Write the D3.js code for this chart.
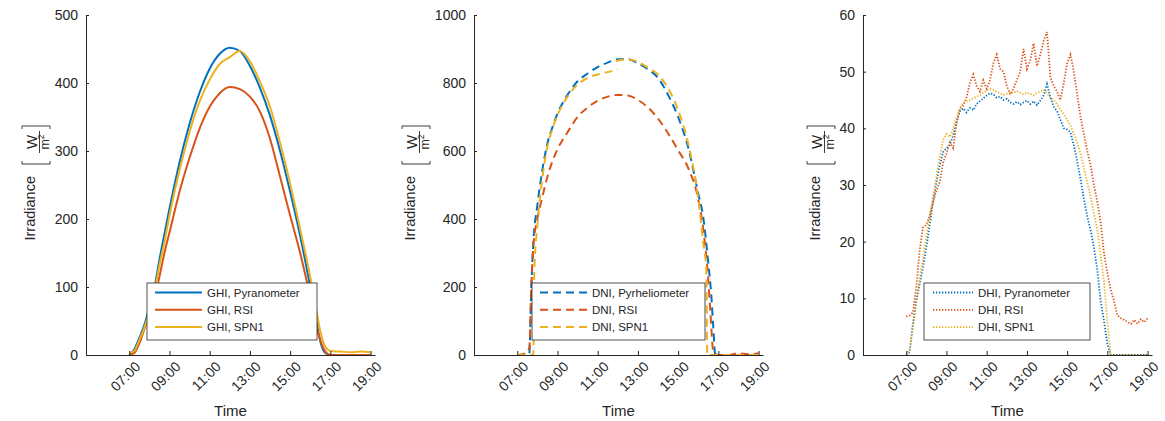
<!DOCTYPE html>
<html>
<head>
<meta charset="utf-8">
<script src="https://cdn.jsdelivr.net/npm/d3@7"></script>
<style>
  body { margin: 0; background: #fff; }
  svg text { font-family: "Liberation Sans", Arial, sans-serif; fill: #262626; }
</style>
</head>
<body>
<svg id="chart" width="1165" height="421"></svg>
<script>
// ---- data (time in decimal hours, irradiance in W/m2) ----
const xTicks = [7, 9, 11, 13, 15, 17, 19];

// GHI panel - shared half hour grid
const ghiTime = [7.0, 7.25, 7.5, 7.75, 8.0, 8.25, 8.5, 8.75, 9.0, 9.5, 10.0, 10.5, 11.0, 11.5, 12.0, 12.5,
  13.0, 13.5, 14.0, 14.5, 15.0, 15.5, 16.0, 16.25, 16.5, 16.75, 17.0, 17.5, 18.0, 18.5, 19.0];
const ghiPyr = [0, 8, 25, 44, 70, 98, 140, 178, 215, 283, 340, 386, 421, 443, 452, 447,
  425, 393, 352, 300, 240, 175, 100, 60, 20, 3, 0, 0, 0, 0, 0];
const ghiRsi = [0, 3, 17, 38, 60, 82, 115, 150, 180, 240, 290, 333, 365, 385, 394, 391,
  380, 358, 318, 262, 205, 150, 85, 50, 22, 5, 0, 0, 0, 0, 0];
const ghiSpn = [3, 6, 22, 40, 65, 92, 132, 166, 205, 272, 328, 373, 405, 428, 438, 447,
  432, 402, 365, 312, 252, 185, 115, 75, 35, 12, 6, 5, 4, 5, 4];

// DNI panel
const dniPyrTime = [7.0, 7.5, 7.6, 7.7, 7.8, 8.0, 8.25, 8.5, 8.75, 9.0, 9.5, 10.0, 10.5, 11.0, 11.5, 12.0, 12.5,
  13.0, 13.5, 14.0, 14.5, 15.0, 15.5, 16.0, 16.25, 16.5, 16.65, 16.75, 16.85, 17.5, 18.0, 18.5, 19.0];
const dniPyr = [0, 0, 5, 200, 330, 440, 545, 622, 670, 710, 765, 805, 828, 847, 860, 870, 870,
  858, 840, 815, 765, 700, 610, 475, 405, 270, 175, 80, 0, 0, 0, 0, 0];
const dniRsiTime = [7.0, 7.4, 7.6, 7.7, 7.8, 8.0, 8.25, 8.5, 8.75, 9.0, 9.5, 10.0, 10.5, 11.0, 11.5, 12.0, 12.5,
  13.0, 13.5, 14.0, 14.5, 15.0, 15.5, 16.0, 16.25, 16.5, 16.6, 16.75, 17.0, 17.5, 18.0, 18.5, 19.0];
const dniRsi = [0, 5, 20, 200, 320, 400, 465, 524, 570, 605, 655, 700, 728, 748, 760, 765, 763,
  750, 728, 695, 652, 602, 550, 458, 370, 220, 130, 10, 0, 0, 5, 2, 5];
const dniSpnTime = [7.0, 7.75, 7.8, 7.85, 8.0, 8.25, 8.5, 8.75, 9.0, 9.5, 10.0, 10.5, 11.0, 11.5, 12.0, 12.0,
  11.9, 12.5, 13.0, 13.5, 14.0, 14.5, 15.0, 15.5, 16.0, 16.25, 16.4, 16.45, 17.0, 17.5, 18.0, 18.5, 19.0];
const dniSpn = [0, 0, 0, 250, 380, 520, 612, 665, 705, 760, 795, 815, 825, 832, 840, null,
  865, 870, 862, 845, 825, 785, 720, 622, 460, 330, 250, 0, 0, 0, 0, 0, 0];

// DHI panel - 10 minute samples
const dhiTime = ["07:00","07:10","07:20","07:30","07:40","07:50","08:00","08:10","08:20","08:30","08:40","08:50",
  "09:00","09:10","09:20","09:30","09:40","09:50","10:00","10:10","10:20","10:30","10:40","10:50",
  "11:00","11:10","11:20","11:30","11:40","11:50","12:00","12:10","12:20","12:30","12:40","12:50",
  "13:00","13:10","13:20","13:30","13:40","13:50","14:00","14:10","14:20","14:30","14:40","14:50",
  "15:00","15:10","15:20","15:30","15:40","15:50","16:00","16:10","16:20","16:30","16:40","16:50",
  "17:00","17:10","17:20","17:30","17:40","17:50","18:00","18:10","18:20","18:30","18:40","18:50","19:00"];
const dhiPyr = [0, 0.5, 5.5, 9.5, 12.5, 15.5, 19, 23, 27, 30.5, 33.5, 35.8,
  36.5, 37, 38.8, 41, 43, 43.5, 42.8, 43.6, 43.2, 44.3, 44.8, 45.3,
  45.8, 46.2, 46, 45.4, 45.6, 45, 45.2, 44.6, 44.3, 44.7, 44.2, 44.6,
  44.9, 44.3, 44.8, 44.1, 44.9, 45.8, 47.8, 45.5, 43.8, 43, 41.5, 40,
  39.8, 39.3, 37, 34.2, 31, 27.5, 24.5, 22, 19, 15, 9.5, 6,
  2, 0, 0, 0, 0, 0, 0, 0, 0, 0, 0, 0, 0];
const dhiRsi = [6.8, 7.0, 7.5, 12, 18.5, 22.5, 23, 24.5, 27, 29, 30.5, 34,
  35.5, 37.5, 36.5, 41, 43.5, 44, 45.5, 48, 49.5, 47.5, 46.5, 48.5,
  47, 48.5, 51.5, 53, 50.5, 50, 47.5, 46, 47, 48.5, 50, 54,
  50.5, 52, 55, 51, 53, 55.5, 57, 49, 47.5, 46.5, 45, 48,
  51.5, 53, 50, 46, 42, 39, 36, 33.5, 30, 27, 23.5, 18,
  14.5, 11.5, 9.5, 7, 6.5, 6.2, 5.8, 5.5, 6.2, 5.5, 6.3, 5.8, 6.5];
const dhiSpn = [0, 1, 5, 9.5, 13.5, 17, 21, 24.5, 28, 31.5, 35, 38,
  39, 38.5, 40, 42, 43.5, 44.5, 44.8, 45, 45.3, 45.6, 45.8, 46.3,
  46.6, 47, 46.8, 46.4, 46.2, 45.9, 46.1, 46.4, 46.2, 46.6, 46.3, 46,
  46.3, 46.1, 45.8, 46.2, 46.5, 46.8, 46.2, 45.5, 45, 44.2, 43.3, 42.5,
  41.5, 40.5, 39, 37.5, 35.5, 33, 30.5, 28, 25, 22, 17.5, 13,
  6, 0, 0, 0, 0, 0, 0, 0, 0, 0, 0, 0, 0];

const colors = ["#0072BD", "#D95319", "#EDB120"];
const AXIS = "#262626";

function hm(s) { const p = s.split(":"); return +p[0] + +p[1] / 60; }
function zip(t, v) { return t.map((d, i) => ({ t: typeof d === "string" ? hm(d) : d, v: v[i] })); }

const panels = [
  { left: 86, yMax: 500, yTicks: d3.range(0, 501, 100), dash: null, width: 2, curve: d3.curveMonotoneX,
    labelOff: 51, legend: { x: 147, w: 170, sx0: 155, sx1: 202, tx: 207 },
    series: [
      { name: "GHI, Pyranometer", data: zip(ghiTime, ghiPyr) },
      { name: "GHI, RSI", data: zip(ghiTime, ghiRsi) },
      { name: "GHI, SPN1", data: zip(ghiTime, ghiSpn) }] },
  { left: 474, yMax: 1000, yTicks: d3.range(0, 1001, 200), dash: "8,5", width: 2, curve: d3.curveMonotoneX,
    labelOff: 59, legend: { x: 532, w: 173, sx0: 540, sx1: 587, tx: 592 },
    series: [
      { name: "DNI, Pyrheliometer", data: zip(dniPyrTime, dniPyr) },
      { name: "DNI, RSI", data: zip(dniRsiTime, dniRsi) },
      { name: "DNI, SPN1", data: zip(dniSpnTime, dniSpn) }] },
  { left: 863, yMax: 60, yTicks: d3.range(0, 61, 10), dash: "1.3,1.7", width: 1.8, curve: d3.curveLinear,
    labelOff: 43, legend: { x: 924, w: 166, sx0: 933, sx1: 973, tx: 978 },
    series: [
      { name: "DHI, Pyranometer", data: zip(dhiTime, dhiPyr) },
      { name: "DHI, RSI", data: zip(dhiTime, dhiRsi) },
      { name: "DHI, SPN1", data: zip(dhiTime, dhiSpn) }] }
];

const svg = d3.select("#chart");
const plotTop = 15, plotBottom = 355, plotW = 289;

panels.forEach(p => {
  const g = svg.append("g");
  const x = d3.scaleLinear().domain([4.85, 19.22]).range([p.left, p.left + plotW]);
  const y = d3.scaleLinear().domain([0, p.yMax]).range([plotBottom, plotTop]);

  // lines
  const line = d3.line().defined(d => d.v != null).x(d => x(d.t)).y(d => y(d.v)).curve(p.curve);
  p.series.forEach((s, i) => {
    g.append("path").datum(s.data)
      .attr("d", line)
      .attr("fill", "none")
      .attr("stroke", colors[i])
      .attr("stroke-width", p.width)
      .attr("stroke-dasharray", p.dash);
  });

  // axes
  const xa = g.append("g").attr("transform", `translate(0,${plotBottom})`)
    .call(d3.axisBottom(x).tickValues(xTicks).tickSizeInner(-4).tickSizeOuter(0)
      .tickFormat(d => d3.format("02")(d) + ":00"));
  xa.selectAll("text")
    .attr("x", 0).attr("y", 0).attr("dy", "0.35em")
    .attr("transform", "translate(8,9) rotate(-45)")
    .style("text-anchor", "end")
    .attr("font-size", 14);

  const ya = g.append("g").attr("transform", `translate(${p.left},0)`)
    .call(d3.axisLeft(y).tickValues(p.yTicks).tickSizeInner(-3).tickSizeOuter(0).tickPadding(8)
      .tickFormat(d3.format("d")));
  ya.selectAll("text").attr("font-size", 14);

  [xa, ya].forEach(a => {
    a.select(".domain").attr("stroke", AXIS);
    a.selectAll(".tick line").attr("stroke", AXIS);
    a.selectAll("text").style("fill", "#262626");
  });

  // axis titles
  g.append("text").attr("x", p.left + plotW / 2).attr("y", 416)
    .attr("text-anchor", "middle").attr("font-size", 15).text("Time");

  const lab = g.append("g").attr("transform", `translate(${p.left - p.labelOff},${plotTop + 161}) rotate(-90)`);
  lab.append("text").attr("text-anchor", "end").attr("font-size", 14.5).text("Irradiance");
  lab.append("path").attr("d", "M15,-13H12V15H15").attr("fill", "none").attr("stroke", AXIS).attr("stroke-width", 0.9);
  lab.append("path").attr("d", "M47,-13H50V15H47").attr("fill", "none").attr("stroke", AXIS).attr("stroke-width", 0.9);
  lab.append("text").attr("x", 34).attr("y", 2).attr("text-anchor", "middle").attr("font-size", 15).text("W");
  lab.append("line").attr("x1", 23).attr("x2", 45).attr("y1", 4.5).attr("y2", 4.5)
    .attr("stroke", AXIS).attr("stroke-width", 0.9);
  const m2 = lab.append("text").attr("x", 34).attr("y", 14).attr("text-anchor", "middle").attr("font-size", 12.5);
  m2.append("tspan").text("m");
  m2.append("tspan").attr("dy", -5).attr("font-size", 8.5).text("2");

  // legend
  const L = p.legend;
  const lg = g.append("g");
  lg.append("rect").attr("x", L.x).attr("y", 283).attr("width", L.w).attr("height", 57)
    .attr("fill", "#fff").attr("stroke", "#262626").attr("stroke-width", 0.8);
  p.series.forEach((s, i) => {
    const yy = 292.5 + i * 17.3;
    lg.append("line").attr("x1", L.sx0).attr("x2", L.sx1).attr("y1", yy).attr("y2", yy)
      .attr("stroke", colors[i]).attr("stroke-width", p.width).attr("stroke-dasharray", p.dash);
    lg.append("text").attr("x", L.tx).attr("y", yy).attr("dy", "0.35em")
      .attr("font-size", 11.5).text(s.name);
  });
});
</script>
</body>
</html>
